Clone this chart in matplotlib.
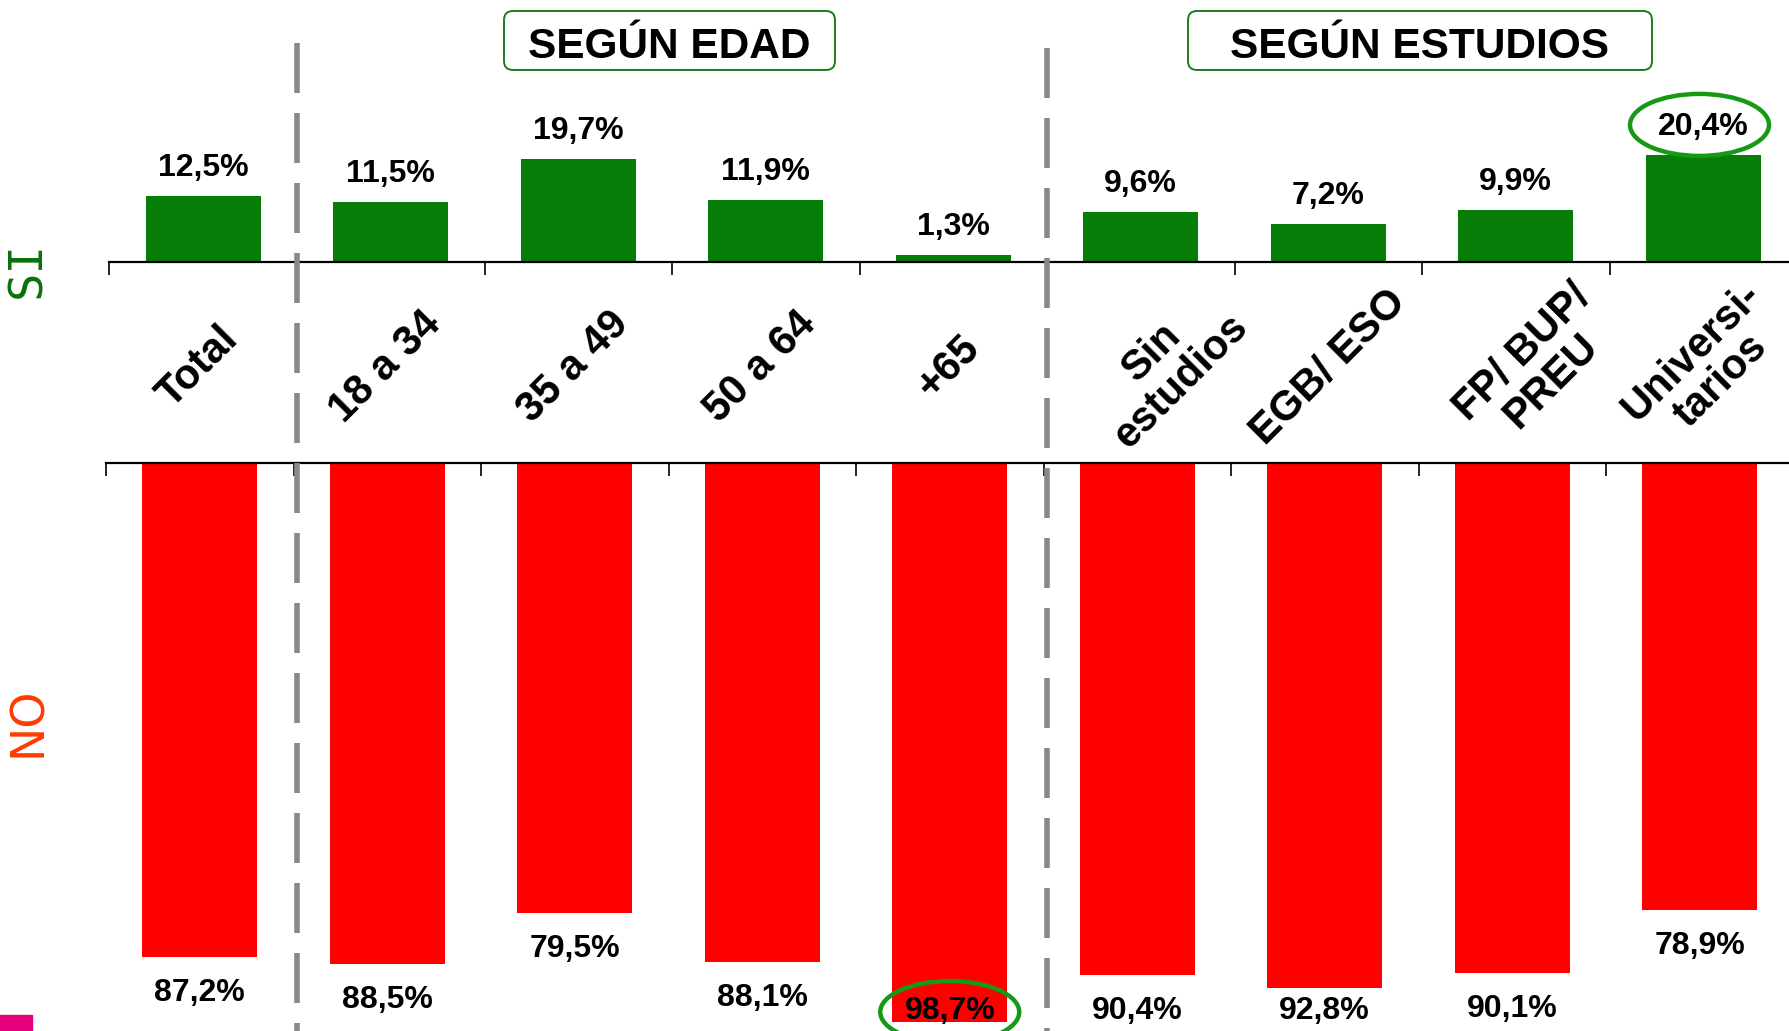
import numpy as np
import matplotlib
matplotlib.use("Agg")
import matplotlib.pyplot as plt
from matplotlib.patches import Ellipse, FancyBboxPatch, Rectangle
from matplotlib.lines import Line2D
import matplotlib.transforms as mtransforms

# ---------------- data ----------------
categories = ["Total", "18 a 34", "35 a 49", "50 a 64", "+65",
              "Sin\nestudios", "EGB/ ESO", "FP/ BUP/\nPREU", "Universi-\ntarios"]
si_values = [12.5, 11.5, 19.7, 11.9, 1.3, 9.6, 7.2, 9.9, 20.4]
no_values = [87.2, 88.5, 79.5, 88.1, 98.7, 90.4, 92.8, 90.1, 78.9]
group_titles = ["SEGÚN EDAD", "SEGÚN ESTUDIOS"]
group_breaks = [0.5, 4.5]
side_labels = ["SI", "NO"]
highlight_si = 8
highlight_no = 4

# ---------------- style / layout ----------------
plt.rcParams['font.family'] = ['Liberation Sans', 'DejaVu Sans']
GREEN = '#067d06'
RED = '#ff0000'
CIRCLE = '#169a16'
label_nudge_px = [-5, -5, -5, -5, -5, 26, 0, 21, 3]   # horizontal nudge of rotated labels

W, H = 1789, 1031
fig = plt.figure(figsize=(W / 100, H / 100), dpi=100)
fig.patch.set_facecolor('white')


def fx(px):
    return px / W


def fy(py):
    return 1 - py / H


def fmt(v):
    return f"{v:.1f}".replace('.', ',') + '%'


CAT_W = 187.5
ncat = len(categories)
x = np.arange(ncat)

# ---------------- top axes (SI) ----------------
top_base, top_scale = 262, 5.25
ax_t = fig.add_axes([fx(109.5), fy(top_base), ncat * CAT_W / W, top_base / H])
ax_t.set_xlim(-0.5, ncat - 0.5)
ax_t.set_ylim(0, top_base / top_scale)
ax_t.bar(x, si_values, width=0.615, color=GREEN, zorder=2)
for s in ['top', 'left', 'right']:
    ax_t.spines[s].set_visible(False)
ax_t.spines['bottom'].set_linewidth(1.6)
ax_t.set_xticks(np.arange(-0.5, ncat, 1.0))
ax_t.tick_params(axis='x', direction='out', length=9, width=1.2, labelbottom=False)
ax_t.set_yticks([])
ax_t.patch.set_alpha(0)

top_off = 28 / top_scale
for i, v in enumerate(si_values):
    ax_t.text(i, v + top_off, fmt(v), ha='center', va='center',
              fontsize=23, fontweight='bold', zorder=6, clip_on=False)

ax_t.add_patch(Ellipse((highlight_si - 0.02, si_values[highlight_si] + top_off + 2 / top_scale),
                       width=139 / CAT_W, height=62 / top_scale, fill=False,
                       ec=CIRCLE, lw=3.2, zorder=5, clip_on=False))

# ---------------- bottom axes (NO) ----------------
no_base, no_scale = 463, 5.66
ax_b = fig.add_axes([fx(106), 0, ncat * CAT_W / W, (H - no_base) / H])
ax_b.set_xlim(-0.5, ncat - 0.5)
ax_b.set_ylim((H - no_base) / no_scale, 0)
ax_b.bar(x, no_values, width=0.615, color=RED, zorder=2)
for s in ['bottom', 'left', 'right']:
    ax_b.spines[s].set_visible(False)
ax_b.spines['top'].set_linewidth(1.6)
ax_b.xaxis.tick_top()
ax_b.set_xticks(np.arange(-0.5, ncat, 1.0))
ax_b.tick_params(axis='x', direction='in', length=9, width=1.2, labeltop=False)
ax_b.set_yticks([])
ax_b.patch.set_alpha(0)

max_lab = (1011 - no_base) / no_scale
no_lab_y = [min(v + 36 / no_scale, max_lab) for v in no_values]
for i, v in enumerate(no_values):
    ax_b.text(i, no_lab_y[i], fmt(v), ha='center', va='center',
              fontsize=23, fontweight='bold', zorder=6, clip_on=False)

ax_b.add_patch(Ellipse((highlight_no, no_lab_y[highlight_no] + 1 / no_scale),
                       width=139 / CAT_W, height=62 / no_scale, fill=False,
                       ec=CIRCLE, lw=3.2, zorder=5, clip_on=False))

# ---------------- category labels ----------------
trans = mtransforms.blended_transform_factory(ax_t.transData, fig.transFigure)
for i, c in enumerate(categories):
    ax_t.text(i + label_nudge_px[i] / CAT_W, fy(367), c, transform=trans, rotation=45,
              rotation_mode='anchor', ha='center', va='center',
              fontsize=30, fontweight='bold', linespacing=1.02, clip_on=False)

# ---------------- dashed separators ----------------
for b, top in zip(group_breaks, [43, 48]):
    fig.add_artist(Line2D([b, b], [fy(top), 0], transform=trans, color='#888888',
                          lw=4, dashes=(9, 3.6), zorder=10))

# ---------------- group title boxes ----------------
ident = mtransforms.IdentityTransform()
boxes = [(504, 835), (1188, 1652)]
for (x0, x1), t in zip(boxes, group_titles):
    fig.add_artist(FancyBboxPatch((x0, H - 70), x1 - x0, 59,
                                  boxstyle='round,pad=0,rounding_size=9',
                                  transform=ident, fc='white', ec='#1e7b1e', lw=1.4))
    fig.text(fx((x0 + x1) / 2), fy(58), t, ha='center', va='baseline',
             fontsize=30.5, fontweight='bold')

# ---------------- side labels ----------------
fig.text(fx(28), fy(270), side_labels[0], rotation=90, color='#0a700a', fontsize=34,
         family='DejaVu Sans Mono', ha='center', va='center')
fig.text(fx(28), fy(722), side_labels[1], rotation=90, color='#ff3a00', fontsize=33,
         family='DejaVu Sans', ha='center', va='center')

# small magenta fragment in the corner
fig.add_artist(Rectangle((0, 0), 32, 16, transform=ident, color='#e5007d'))

fig.savefig('out.png', dpi=100)
